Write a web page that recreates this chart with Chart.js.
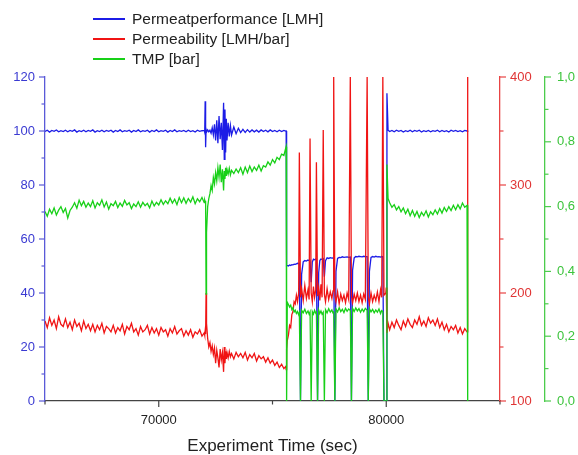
<!DOCTYPE html>
<html>
<head>
<meta charset="utf-8">
<script src="https://cdn.jsdelivr.net/npm/chart.js@4.4.1/dist/chart.umd.min.js"></script>
<style>
  body { margin: 0; background: #fff; }
  #wrap { position: relative; width: 578px; height: 455px; }
  #legend { position: absolute; left: 93px; top: 9px; font-family: "Liberation Sans", Arial, sans-serif; font-size: 15.5px; color: #222; }
  .row { display: flex; align-items: center; height: 20px; }
  .swatch { width: 32px; height: 1.5px; margin-right: 7px; }
</style>
</head>
<body>
<div id="wrap">
  <canvas id="chart"></canvas>
  <div id="legend"></div>
</div>
<script>
// time axis (sec), shared by all three series
const timeSec = [
  65000, 65100, 65200, 65300, 65400, 65500, 65600, 65700, 65800, 65900,
  66000, 66100, 66200, 66300, 66400, 66500, 66600, 66700, 66800, 66900,
  67000, 67100, 67200, 67300, 67400, 67500, 67600, 67700, 67800, 67900,
  68000, 68100, 68200, 68300, 68400, 68500, 68600, 68700, 68800, 68900,
  69000, 69100, 69200, 69300, 69400, 69500, 69600, 69700, 69800, 69900,
  70000, 70100, 70200, 70300, 70400, 70500, 70600, 70700, 70800, 70900,
  71000, 71100, 71200, 71300, 71400, 71500, 71600, 71700, 71800, 71900,
  72000, 72020, 72040, 72060,
  72080, 72100, 72150, 72200, 72250, 72300, 72350, 72400, 72450, 72500,
  72550, 72600, 72650, 72700, 72750, 72800, 72850, 72880, 72910, 72940,
  72970, 73000, 73050, 73100, 73150, 73200, 73300, 73400, 73500, 73600,
  73700, 73800, 73900, 74000, 74100, 74200, 74300, 74400, 74500, 74600,
  74700, 74800, 74900, 75000, 75100, 75200, 75300, 75400, 75500, 75580,
  75600, 75620, 75650, 75700, 75750, 75800, 75850, 75900, 75950, 76000,
  76050, 76100, 76150, 76180, 76230, 76280, 76350, 76420, 76490, 76560,
  76610, 76650, 76700, 76750, 76800, 76850, 76900, 76930, 76980, 77030,
  77080, 77130, 77180, 77230, 77280, 77330, 77400, 77470, 77540, 77610,
  77660, 77690, 77740, 77790, 77860, 77930, 78000, 78070, 78140, 78210,
  78280, 78350, 78420, 78470, 78520, 78590, 78660, 78730, 78800, 78870,
  78940, 79010, 79080, 79160, 79210, 79260, 79330, 79400, 79470, 79540,
  79610, 79680, 79750, 79800, 79850, 79900, 79980, 80000, 80030, 80080,
  80150, 80250, 80350, 80450, 80550, 80650, 80750, 80850, 80950, 81050,
  81150, 81250, 81350, 81450, 81550, 81650, 81750, 81850, 81950, 82050,
  82150, 82250, 82350, 82450, 82550, 82650, 82750, 82850, 82950, 83050,
  83150, 83250, 83350, 83450, 83550, 83580
];

// Permeatperformance [LMH] - left axis
const permeate = [
  99.8, 100.3, 99.6, 100.2, 99.9, 100.4, 99.7, 100.1, 99.8, 100.3,
  99.7, 100.2, 99.9, 100.4, 99.6, 100.1, 99.8, 100.3, 99.7, 100.2,
  99.9, 100.4, 99.6, 100.1, 99.8, 100.3, 99.7, 100.2, 99.9, 100.3,
  99.6, 100.2, 99.8, 100.4, 99.7, 100.1, 99.9, 100.3, 99.6, 100.2,
  99.8, 100.4, 99.7, 100.1, 99.9, 100.3, 99.6, 100.2, 99.8, 100.4,
  99.7, 100.1, 99.9, 100.3, 99.6, 100.2, 99.8, 100.4, 99.7, 100.1,
  99.9, 100.2, 99.7, 100.3, 99.8, 100.1, 99.6, 100.3, 99.9, 100.1,
  100.2, 99.5, 111.0, 94.0,
  100.5, 99.6, 100.4, 99.7, 100.3, 99.2, 101.2, 98.6, 102.5, 96.5,
  104.0, 95.5, 105.5, 97.0, 103.0, 93.0, 110.5, 89.5, 108.0, 92.0,
  104.5, 96.5, 103.0, 98.0, 102.0, 98.5, 101.5, 99.0, 101.0, 99.4,
  100.6, 99.5, 100.5, 99.6, 100.4, 99.7, 100.3, 99.6, 100.4, 99.8,
  100.3, 99.7, 100.4, 99.8, 100.2, 99.7, 100.3, 99.8, 100.2, 100.0,
  100.0, 50.0, 50.2, 50.0, 50.4, 50.2, 50.5, 50.4, 50.7, 50.6,
  50.8, 51.0, 50.9, 51.0, 0, 47.0, 51.5, 52.0, 51.8, 52.2,
  52.0, 52.1, 44.0, 51.5, 52.5, 52.3, 52.6, 52.5, 0, 47.5,
  52.0, 52.6, 52.4, 52.7, 46.0, 52.0, 53.0, 52.8, 53.1, 52.9,
  53.0, 53.1, 0, 48.0, 52.8, 53.2, 53.1, 53.4, 53.2, 53.3,
  53.4, 53.2, 53.3, 0, 48.5, 53.0, 53.5, 53.4, 53.6, 53.5,
  53.4, 53.6, 53.5, 53.5, 0, 48.0, 53.2, 53.5, 53.3, 53.6,
  53.4, 53.5, 53.3, 53.5, 53.4, 0, 0, 0, 114.0, 100.3,
  99.8, 100.2, 99.7, 100.3, 99.9, 100.2, 99.6, 100.1, 99.8, 100.3,
  99.7, 100.2, 99.9, 100.3, 99.6, 100.1, 99.8, 100.2, 99.7, 100.1,
  99.9, 100.3, 99.7, 100.2, 99.8, 100.1, 99.6, 100.3, 99.9, 100.2,
  99.8, 100.1, 99.7, 100.2, 100.0, 100.1
];

// Permeability [LMH/bar] - red axis
const permeability = [
  174, 168, 177, 170, 175, 167, 178, 171, 169, 176,
  168, 173, 166, 175, 169, 172, 165, 174, 167, 171,
  165, 171, 164, 170, 166, 172, 163, 169, 167, 164,
  170, 163, 168, 165, 171, 162, 169, 166, 172, 164,
  167, 161, 169, 164, 166, 170, 162, 168, 163, 167,
  161, 168, 164, 166, 160, 167, 163, 169, 162, 165,
  167, 160, 165, 161, 166, 159, 164, 162, 166, 160,
  163, 161, 165, 162,
  200, 172, 158, 150, 154, 146, 151, 143, 149, 135,
  147, 140, 131, 148, 138, 145, 127, 150, 135, 146,
  139, 145, 140, 146, 141, 144, 139, 145, 141, 144,
  140, 145, 138, 143, 140, 144, 137, 142, 139, 141,
  136, 140, 135, 138, 133, 136, 131, 134, 130, 132,
  129, 148, 156, 161, 170, 168, 180, 183, 192, 190,
  198, 192, 200, 330, 196, 204, 193, 207, 195, 203,
  194, 343, 200, 192, 206, 196, 203, 321, 197, 205,
  193, 208, 196, 351, 199, 192, 204, 194, 201, 195,
  202, 400, 198, 192, 201, 190, 199, 193, 198, 191,
  200, 194, 400, 197, 191, 199, 193, 200, 192, 198,
  191, 199, 194, 400, 196, 190, 200, 192, 198, 193,
  201, 192, 203, 196, 400, 198, 200, 205, 163, 172,
  166, 173, 168, 175, 170, 166, 174, 169, 176, 171,
  168, 175, 171, 178, 170, 174, 169, 177, 172, 175,
  170, 176, 168, 173, 166, 171, 164, 169, 166, 170,
  163, 168, 162, 167, 164, 400
];

// TMP [bar] - green axis
const tmp = [
  0.585, 0.570, 0.592, 0.578, 0.596, 0.574, 0.589, 0.600, 0.582, 0.594,
  0.565, 0.588, 0.598, 0.612, 0.595, 0.620, 0.603, 0.616, 0.598, 0.611,
  0.600, 0.618, 0.596, 0.612, 0.604, 0.621, 0.599, 0.614, 0.592, 0.609,
  0.603, 0.616, 0.597, 0.611, 0.601, 0.619, 0.605, 0.612, 0.594, 0.608,
  0.600, 0.615, 0.598, 0.613, 0.603, 0.610, 0.596, 0.617, 0.602, 0.613,
  0.605, 0.621, 0.607, 0.618, 0.609, 0.626, 0.611, 0.623, 0.606, 0.628,
  0.612, 0.627, 0.610, 0.625, 0.614, 0.630, 0.609, 0.624, 0.615, 0.628,
  0.612, 0.620, 0.615, 0.618,
  0.330, 0.520, 0.600, 0.625, 0.640, 0.665, 0.650, 0.690, 0.670, 0.705,
  0.680, 0.720, 0.690, 0.730, 0.675, 0.715, 0.650, 0.710, 0.685, 0.720,
  0.695, 0.715, 0.700, 0.718, 0.698, 0.712, 0.702, 0.716, 0.705, 0.720,
  0.700, 0.722, 0.705, 0.725, 0.708, 0.722, 0.712, 0.728, 0.710, 0.726,
  0.722, 0.738, 0.728, 0.745, 0.735, 0.752, 0.745, 0.762, 0.758, 0.780,
  0.785, 0, 0.305, 0.298, 0.290, 0.296, 0.282, 0.288, 0.275, 0.280,
  0.270, 0.276, 0.266, 0.272, 0, 0.280, 0.272, 0.283, 0.270, 0.278,
  0.268, 0.275, 0, 0.276, 0.268, 0.280, 0.271, 0.274, 0, 0.281,
  0.270, 0.278, 0.268, 0.274, 0, 0.282, 0.272, 0.285, 0.274, 0.281,
  0.271, 0.277, 0, 0.284, 0.275, 0.288, 0.276, 0.283, 0.273, 0.286,
  0.277, 0.284, 0.279, 0, 0.286, 0.276, 0.287, 0.278, 0.285, 0.274,
  0.284, 0.276, 0.286, 0.280, 0, 0.285, 0.275, 0.283, 0.272, 0.281,
  0.274, 0.284, 0.270, 0.279, 0.276, 0, 0, 0, 0.730, 0.625,
  0.612, 0.598, 0.606, 0.590, 0.600, 0.584, 0.596, 0.578, 0.592, 0.572,
  0.588, 0.570, 0.585, 0.566, 0.582, 0.572, 0.587, 0.568, 0.584, 0.575,
  0.590, 0.577, 0.594, 0.580, 0.597, 0.585, 0.600, 0.588, 0.604, 0.590,
  0.606, 0.593, 0.611, 0.598, 0.604, 0
];

const BLUE = '#1c1ce6';
const RED = '#f01414';
const GREEN = '#18d018';

Chart.defaults.font.family = '"Liberation Sans", Arial, sans-serif';
Chart.defaults.font.size = 13;

const toPoints = (vals) => timeSec.map((t, i) => ({ x: t, y: vals[i] }));

// tick marks drawn by hand: long for labelled ticks, short for minor ones
const tickMarks = {
  id: 'tickMarks',
  afterDraw(chart) {
    const ctx = chart.ctx;
    ['x', 'y', 'yRed', 'yGreen'].forEach((id) => {
      const s = chart.scales[id];
      ctx.save();
      ctx.strokeStyle = s.options.border.color;
      ctx.lineWidth = 1.2;
      s.ticks.forEach((t) => {
        const len = t.label !== '' ? 6 : 3.5;
        const p = s.getPixelForValue(t.value);
        ctx.beginPath();
        if (id === 'x') { ctx.moveTo(p, s.top); ctx.lineTo(p, s.top + len); }
        else if (s.position === 'left') { ctx.moveTo(s.right, p); ctx.lineTo(s.right - len, p); }
        else { ctx.moveTo(s.left, p); ctx.lineTo(s.left + len, p); }
        ctx.stroke();
      });
      ctx.restore();
    });
  }
};

function sideAxis(color, lineColor, min, max, step, position, width, pad, labelFn) {
  return {
    type: 'linear',
    position,
    min, max,
    border: { display: true, color: lineColor, width: 1.3 },
    grid: { drawOnChartArea: false, drawTicks: false },
    ticks: { stepSize: step, color, padding: pad, autoSkip: false, callback: labelFn },
    afterFit: (scale) => { scale.width = width; }
  };
}

const chart = new Chart(document.getElementById('chart'), {
  type: 'line',
  data: {
    datasets: [
      { label: 'Permeatperformance [LMH]', data: toPoints(permeate), yAxisID: 'y', borderColor: BLUE, order: 3 },
      { label: 'Permeability [LMH/bar]', data: toPoints(permeability), yAxisID: 'yRed', borderColor: RED, order: 2 },
      { label: 'TMP [bar]', data: toPoints(tmp), yAxisID: 'yGreen', borderColor: GREEN, order: 1 }
    ]
  },
  options: {
    responsive: true,
    maintainAspectRatio: false,
    animation: false,
    layout: { padding: { top: 77, left: 0, right: 0, bottom: 0 } },
    elements: {
      line: { borderWidth: 1.3, tension: 0 },
      point: { radius: 0 }
    },
    plugins: { legend: { display: false }, tooltip: { enabled: false } },
    scales: {
      x: {
        type: 'linear',
        min: 65000, max: 85000,
        border: { display: true, color: '#444', width: 1.3 },
        grid: { drawOnChartArea: false, drawTicks: false },
        ticks: {
          stepSize: 5000, color: '#222', padding: 12, autoSkip: false, maxRotation: 0,
          callback: (v) => (v % 10000 === 0 ? String(v) : '')
        },
        title: { display: true, text: 'Experiment Time (sec)', color: '#222', font: { size: 17, lineHeight: 1 }, padding: { top: 0, bottom: 0 } },
        afterFit: (scale) => { scale.height = 54; }
      },
      y: sideAxis('#3a3ad2', '#5a5ad8', 0, 120, 10, 'left', 45, 10,
        (v) => (v % 20 === 0 ? String(v) : '')),
      yRed: sideAxis('#e03434', '#e84444', 100, 400, 50, 'right', 45, 10,
        (v) => (v % 100 === 0 ? String(v) : '')),
      yGreen: sideAxis('#3cc43c', '#4ccc4c', 0, 1, 0.1, 'right', 33, 12,
        (v) => (Math.round(v * 10) % 2 === 0 ? v.toFixed(1).replace('.', ',') : ''))
    }
  },
  plugins: [tickMarks]
});

// vertical legend above the plot, as in the original
const legendBox = document.getElementById('legend');
[BLUE, RED, GREEN].forEach((col, i) => {
  const row = document.createElement('div');
  row.className = 'row';
  const sw = document.createElement('span');
  sw.className = 'swatch';
  sw.style.backgroundColor = col;
  const txt = document.createElement('span');
  txt.textContent = chart.data.datasets[i].label;
  row.appendChild(sw);
  row.appendChild(txt);
  legendBox.appendChild(row);
});
</script>
</body>
</html>
